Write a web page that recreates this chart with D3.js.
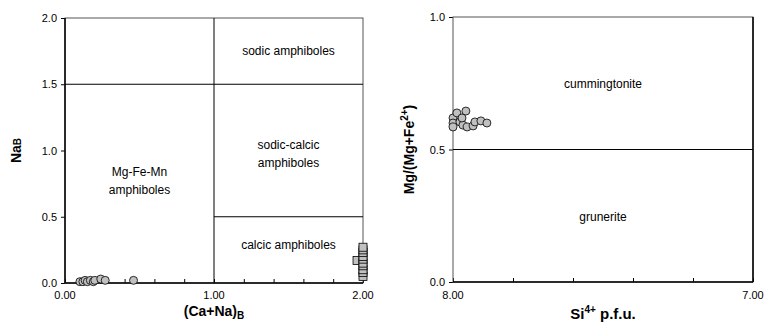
<!DOCTYPE html>
<html>
<head>
<meta charset="utf-8">
<script src="https://cdn.jsdelivr.net/npm/d3@7"></script>
<style>
  body { margin: 0; background: #fff; }
  svg text { font-family: "Liberation Sans", Arial, sans-serif; fill: #000; }
</style>
</head>
<body>
<div id="chart"></div>
<script>
// left panel: Ca+Na (B) vs Na (B)
const circlesCaNa = [0.10, 0.12, 0.135, 0.15, 0.17, 0.19, 0.20, 0.24, 0.27, 0.46];
const circlesNa   = [0.01, 0.01, 0.02, 0.01, 0.02, 0.01, 0.02, 0.03, 0.02, 0.02];
const squaresCaNa = [1.96, 2.00, 2.00, 2.00, 2.00, 2.00, 2.00, 2.00, 2.00, 2.00, 2.00];
const squaresNa   = [0.17, 0.05, 0.08, 0.10, 0.13, 0.15, 0.18, 0.20, 0.23, 0.25, 0.27];
const leftXTicks = [0, 0.2, 0.4, 0.6, 0.8, 1.0, 1.2, 1.4, 1.6, 1.8, 2.0];
const leftXLabels = [0, 1, 2];
const leftYTicks = [0, 0.5, 1.0, 1.5, 2.0];

// right panel: Si p.f.u. vs Mg/(Mg+Fe2+)
const siValues = [8.00, 7.987, 7.957, 8.00, 7.977, 7.967, 7.953, 7.933, 7.927, 7.907, 7.887, 7.970, 8.00];
const mgValues = [0.619, 0.638, 0.645, 0.600, 0.604, 0.592, 0.585, 0.589, 0.604, 0.608, 0.600, 0.619, 0.585];
const rightXTicks = [8.0, 7.8, 7.6, 7.4, 7.2, 7.0];
const rightXLabels = [8, 7];
const rightYTicks = [0, 0.5, 1.0];

const svg = d3.select("#chart").append("svg")
  .attr("width", 766)
  .attr("height", 331);

const pointFill = "#c0c0c0";

// ---------- left panel ----------
const xL = d3.scaleLinear().domain([0, 2]).range([65, 363]);
const yL = d3.scaleLinear().domain([0, 2]).range([283, 18]);

const left = svg.append("g");

left.append("g")
  .attr("transform", `translate(0,${yL(0)})`)
  .call(d3.axisTop(xL).tickValues(leftXTicks).tickSize(4).tickFormat(""))
  .call(g => g.select(".domain").remove())
  .selectAll("line").attr("stroke", "#000");

left.selectAll("text.xlab")
  .data(leftXLabels)
  .join("text")
  .attr("x", d => xL(d))
  .attr("y", 299)
  .attr("text-anchor", "middle")
  .style("font-size", "11px")
  .text(d => d3.format(".2f")(d));

left.append("g")
  .attr("transform", `translate(${xL(0)},0)`)
  .call(d3.axisLeft(yL).tickValues(leftYTicks).tickSize(4).tickPadding(4).tickFormat(d3.format(".1f")))
  .call(g => g.select(".domain").remove())
  .call(g => g.selectAll("line").attr("stroke", "#000"))
  .call(g => g.selectAll("text").style("font-size", "11px").attr("font-family", null));

// frame
left.append("rect")
  .attr("x", xL(0)).attr("y", yL(2))
  .attr("width", xL(2) - xL(0)).attr("height", yL(0) - yL(2))
  .attr("fill", "none").attr("stroke", "#555").attr("stroke-width", 1);
left.append("line")
  .attr("x1", xL(0)).attr("x2", xL(0)).attr("y1", yL(2)).attr("y2", yL(0))
  .attr("stroke", "#000").attr("stroke-width", 1.5);
left.append("line")
  .attr("x1", xL(0)).attr("x2", xL(2)).attr("y1", yL(0)).attr("y2", yL(0))
  .attr("stroke", "#000").attr("stroke-width", 1.5);

// field boundaries
left.append("line")
  .attr("x1", xL(0)).attr("x2", xL(2)).attr("y1", yL(1.5)).attr("y2", yL(1.5))
  .attr("stroke", "#000");
left.append("line")
  .attr("x1", xL(1)).attr("x2", xL(1)).attr("y1", yL(0)).attr("y2", yL(2))
  .attr("stroke", "#000");
left.append("line")
  .attr("x1", xL(1)).attr("x2", xL(2)).attr("y1", yL(0.5)).attr("y2", yL(0.5))
  .attr("stroke", "#000");

const fieldLabels = [
  { x: 1.5, y: 1.75, lines: ["sodic amphiboles"] },
  { x: 1.5, y: 0.97, lines: ["sodic-calcic", "amphiboles"] },
  { x: 0.5, y: 0.77, lines: ["Mg-Fe-Mn", "amphiboles"] },
  { x: 1.5, y: 0.29, lines: ["calcic amphiboles"] }
];
fieldLabels.forEach(f => {
  const t = left.append("text")
    .attr("text-anchor", "middle")
    .style("font-size", "12px");
  f.lines.forEach((ln, i) => {
    t.append("tspan")
      .attr("x", xL(f.x))
      .attr("y", yL(f.y) + 4 + (i - (f.lines.length - 1) / 2) * 18)
      .text(ln);
  });
});

// squares
const sq = 8;
left.selectAll("rect.sq")
  .data(squaresCaNa.map((x, i) => ({ x, y: squaresNa[i] })))
  .join("rect")
  .attr("class", "sq")
  .attr("x", d => xL(d.x) - sq / 2)
  .attr("y", d => yL(d.y) - sq / 2)
  .attr("width", sq).attr("height", sq)
  .attr("fill", pointFill).attr("stroke", "#000").attr("stroke-width", 0.8);

// circles
left.selectAll("circle.pt")
  .data(circlesCaNa.map((x, i) => ({ x, y: circlesNa[i] })))
  .join("circle")
  .attr("class", "pt")
  .attr("cx", d => xL(d.x))
  .attr("cy", d => yL(d.y))
  .attr("r", 4)
  .attr("fill", pointFill).attr("stroke", "#000").attr("stroke-width", 0.8);

// axis titles
const lt = left.append("text")
  .attr("transform", `translate(21,${yL(1)}) rotate(-90)`)
  .attr("text-anchor", "middle")
  .style("font-size", "14px").style("font-weight", "bold");
lt.append("tspan").text("Na");
lt.append("tspan").style("font-size", "10px").text("B");

const lx = left.append("text")
  .attr("x", xL(1)).attr("y", 316)
  .attr("text-anchor", "middle")
  .style("font-size", "14px").style("font-weight", "bold");
lx.append("tspan").text("(Ca+Na)");
lx.append("tspan").attr("dy", 3).style("font-size", "10px").text("B");

// ---------- right panel ----------
const xR = d3.scaleLinear().domain([8, 7]).range([453, 753]);
const yR = d3.scaleLinear().domain([0, 1]).range([282, 17]);

const right = svg.append("g");

right.append("g")
  .attr("transform", `translate(0,${yR(0)})`)
  .call(d3.axisTop(xR).tickValues(rightXTicks).tickSize(4).tickFormat(""))
  .call(g => g.select(".domain").remove())
  .selectAll("line").attr("stroke", "#000");

right.selectAll("text.xlab")
  .data(rightXLabels)
  .join("text")
  .attr("x", d => xR(d))
  .attr("y", 299)
  .attr("text-anchor", "middle")
  .style("font-size", "11px")
  .text(d => d3.format(".2f")(d));

right.append("g")
  .attr("transform", `translate(${xR(8)},0)`)
  .call(d3.axisLeft(yR).tickValues(rightYTicks).tickSize(4).tickPadding(4).tickFormat(d3.format(".1f")))
  .call(g => g.select(".domain").remove())
  .call(g => g.selectAll("line").attr("stroke", "#000"))
  .call(g => g.selectAll("text").style("font-size", "11px").attr("font-family", null));

right.append("rect")
  .attr("x", xR(8)).attr("y", yR(1))
  .attr("width", xR(7) - xR(8)).attr("height", yR(0) - yR(1))
  .attr("fill", "none").attr("stroke", "#555").attr("stroke-width", 1);
right.append("line")
  .attr("x1", xR(8)).attr("x2", xR(7)).attr("y1", yR(0)).attr("y2", yR(0))
  .attr("stroke", "#000").attr("stroke-width", 1.5);
right.append("line")
  .attr("x1", xR(7)).attr("x2", xR(7)).attr("y1", yR(0)).attr("y2", yR(1))
  .attr("stroke", "#000").attr("stroke-width", 1.5);

right.append("line")
  .attr("x1", xR(8)).attr("x2", xR(7)).attr("y1", yR(0.5)).attr("y2", yR(0.5))
  .attr("stroke", "#000");

right.append("text")
  .attr("x", xR(7.5)).attr("y", yR(0.75) + 5)
  .attr("text-anchor", "middle").style("font-size", "12px")
  .text("cummingtonite");
right.append("text")
  .attr("x", xR(7.5)).attr("y", yR(0.25) + 5)
  .attr("text-anchor", "middle").style("font-size", "12px")
  .text("grunerite");

right.selectAll("circle.pt")
  .data(siValues.map((x, i) => ({ x, y: mgValues[i] })))
  .join("circle")
  .attr("class", "pt")
  .attr("cx", d => xR(d.x))
  .attr("cy", d => yR(d.y))
  .attr("r", 4)
  .attr("fill", pointFill).attr("stroke", "#000").attr("stroke-width", 0.8);

const rt = right.append("text")
  .attr("transform", `translate(414,${yR(0.5)}) rotate(-90)`)
  .attr("text-anchor", "middle")
  .style("font-size", "14px").style("font-weight", "bold");
rt.append("tspan").text("Mg/(Mg+Fe");
rt.append("tspan").attr("dy", -6).style("font-size", "10px").text("2+");
rt.append("tspan").attr("dy", 6).text(")");

const rx = right.append("text")
  .attr("x", xR(7.5)).attr("y", 319)
  .attr("text-anchor", "middle")
  .style("font-size", "15px").style("font-weight", "bold");
rx.append("tspan").text("Si");
rx.append("tspan").attr("dy", -6).style("font-size", "10px").text("4+");
rx.append("tspan").attr("dy", 6).text(" p.f.u.");
</script>
</body>
</html>
